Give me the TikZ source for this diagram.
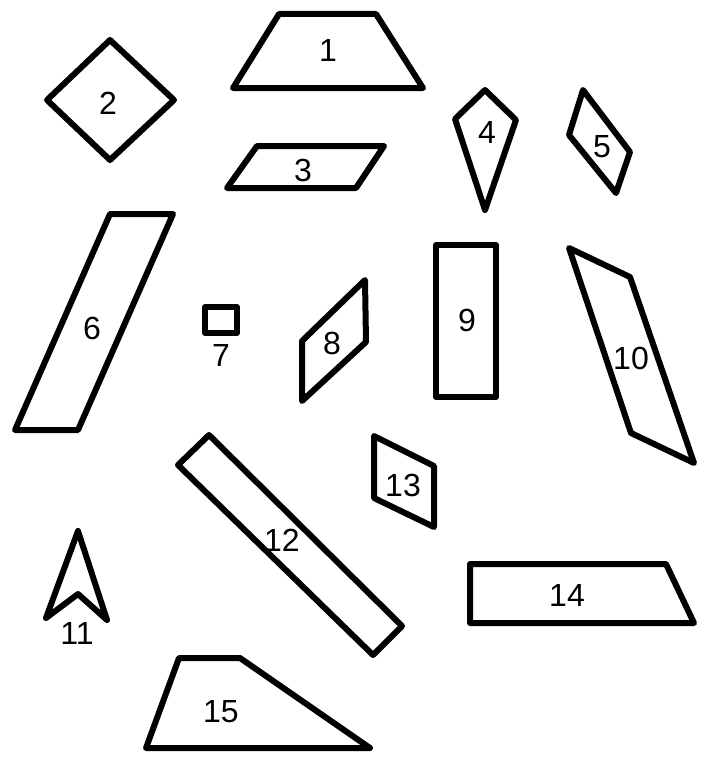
\documentclass[tikz,border=0pt]{standalone}
\usepackage{fontspec}
\setmainfont{Liberation Sans}
\begin{document}
\begin{tikzpicture}[x=1pt,y=-1pt,
  shp/.style={draw=black,line width=6pt,line join=round,fill=none},
  lbl/.style={font=\fontsize{32}{32}\selectfont,inner sep=0pt,text=black}]
\useasboundingbox[fill=white] (0,0) rectangle (720,760);
% 1
\draw[shp] (279,14) -- (376,14) -- (423,88) -- (233,88) -- cycle;
\node[lbl] (l1) at (328,50) {1};
% 2
\draw[shp] (110,40) -- (174,100) -- (110,160) -- (47,100) -- cycle;
\node[lbl] (l2) at (108,103) {2};
% 3
\draw[shp] (257,146) -- (384,146) -- (356,188) -- (227,188) -- cycle;
\node[lbl] (l3) at (303,170) {3};
% 4
\draw[shp] (485,90) -- (516,120) -- (485,210) -- (455,119) -- cycle;
\node[lbl] (l4) at (487,132) {4};
% 5
\draw[shp] (583,90) -- (630,152) -- (616,193) -- (569,135) -- cycle;
\node[lbl] (l5) at (602,147) {5};
% 6
\draw[shp] (110,214) -- (173,214) -- (78,430) -- (15,430) -- cycle;
\node[lbl] (l6) at (92,328) {6};
% 7
\draw[shp] (205,307) rectangle (237,333);
\node[lbl] (l7) at (221,355) {7};
% 8
\draw[shp] (365,280) -- (366,342) -- (302,401) -- (302,341) -- cycle;
\node[lbl] (l8) at (332,343) {8};
% 9
\draw[shp] (436,245) rectangle (496,397);
\node[lbl] (l9) at (467,320) {9};
% 10
\draw[shp] (569,248) -- (630,277) -- (694,463) -- (631,433) -- cycle;
\node[lbl] (l10) at (631,358) {10};
% 11
\draw[shp] (78,531) -- (107,620) -- (78,594) -- (46,618) -- cycle;
\node[lbl] (l11) at (77,633) {11};
% 12
\draw[shp] (209,435) -- (402,626) -- (373,655) -- (178,465) -- cycle;
\node[lbl] (l12) at (282,540) {12};
% 13
\draw[shp] (374,436) -- (434,466) -- (434,527) -- (374,498) -- cycle;
\node[lbl] (l13) at (403,485) {13};
% 14
\draw[shp] (470,564) -- (666,564) -- (694,623) -- (470,623) -- cycle;
\node[lbl] (l14) at (567,595) {14};
% 15
\draw[shp] (179,658) -- (240,658) -- (370,748) -- (146,748) -- cycle;
\node[lbl] (l15) at (221,712) {15};
\end{tikzpicture}
\end{document}
